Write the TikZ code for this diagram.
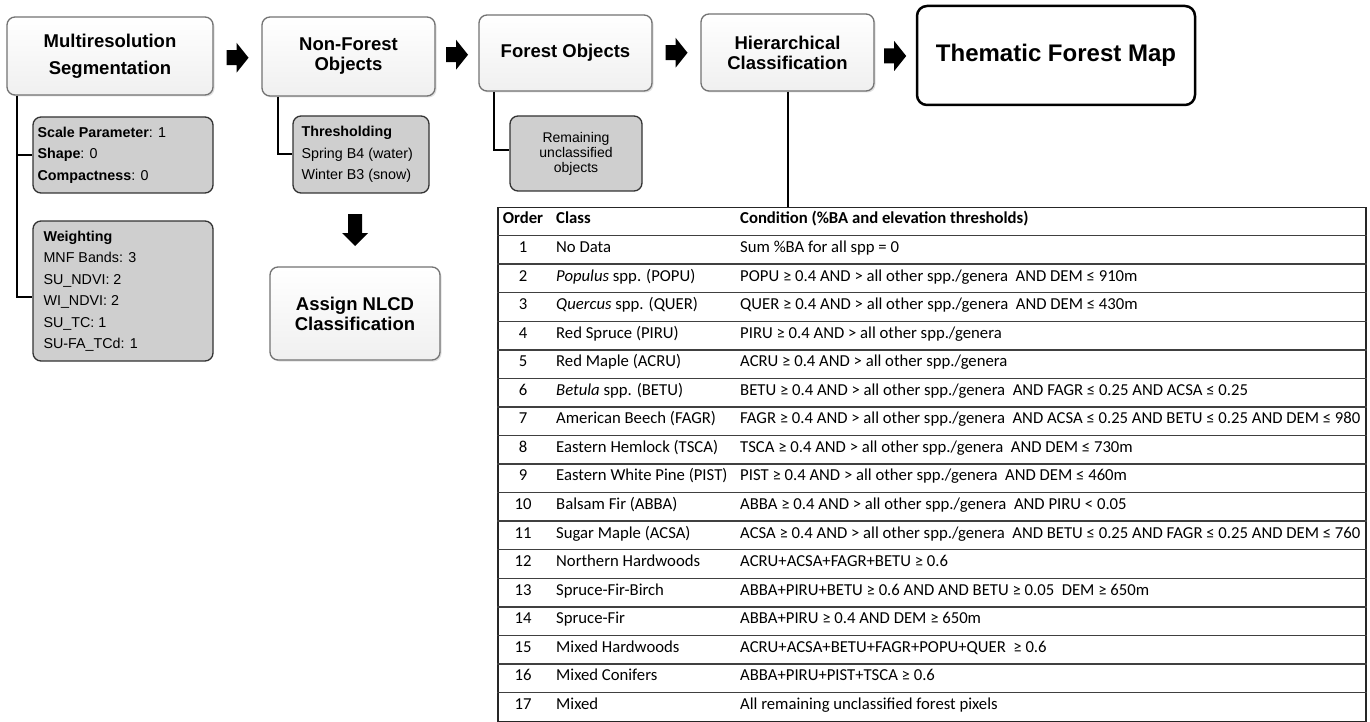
\documentclass[tikz,border=0pt]{standalone}
\usepackage{fontspec}
\setmainfont{Liberation Sans}
\newfontfamily\tabfont{Carlito}
\usetikzlibrary{shadows,calc}
\tikzset{
  topbox/.style={draw=black!55, line width=1.3pt, rounded corners=8pt,
    top color=white, bottom color=black!6,
    drop shadow={shadow xshift=1.5pt, shadow yshift=-1.5pt, fill=black!30, opacity=0.4},
    align=center, inner sep=0pt, font=\fontsize{18.5}{20}\selectfont\bfseries},
  graybox/.style={draw=black!80, line width=1.3pt, rounded corners=8pt, fill=black!19, inner sep=0pt},
  gtext/.style={align=left, inner sep=0pt, anchor=west, font=\fontsize{14.3}{21.5}\selectfont},
  finalbox/.style={draw=black, line width=2.5pt, rounded corners=10pt, fill=white,
    inner sep=0pt, font=\fontsize{24}{26}\selectfont\bfseries},
  blockarrow/.style={fill=black},
  conn/.style={line width=2pt, black},
  tt/.style={inner sep=0pt, font=\tabfont\fontsize{16.7}{19}\selectfont},
  rowline/.style={line width=1.4pt, black!75},
}
\newcommand\rarr[1]{\fill[blockarrow] ($(#1)+(-11,-7.5)$) -- ($(#1)+(-1,-7.5)$) -- ($(#1)+(-1,-15)$) -- ($(#1)+(11,0)$) -- ($(#1)+(-1,15)$) -- ($(#1)+(-1,7.5)$) -- ($(#1)+(-11,7.5)$) -- cycle;}
\newcommand\darr[1]{\fill[blockarrow] ($(#1)+(-7,-16)$) -- ($(#1)+(7,-16)$) -- ($(#1)+(7,3)$) -- ($(#1)+(13,3)$) -- ($(#1)+(0,16)$) -- ($(#1)+(-13,3)$) -- ($(#1)+(-7,3)$) -- cycle;}
\newcommand\tabrow[4]{%
  \pgfmathsetmacro\ry{207+28.56*(#1+0.5)}%
  \node[tt,anchor=mid] (ord#1) at (523,\ry) {#2};
  \node[tt,anchor=mid west] (cls#1) at (556,\ry) {#3};
  \node[tt,anchor=mid west] (cnd#1) at (740,\ry) {#4};
}
\begin{document}
\begin{tikzpicture}[x=1pt,y=-1pt]
\useasboundingbox (0,0) rectangle (1370,722);
\fill[white] (0,0) rectangle (1370,722);

% top row
\node[topbox, minimum width=206pt, minimum height=78pt, font=\fontsize{18.5}{27}\selectfont\bfseries] (seg) at (110,56) {Multiresolution\\Segmentation};
\node[topbox, minimum width=173pt, minimum height=79pt] (nf) at (348.5,56.5) {Non-Forest\\Objects};
\node[topbox, minimum width=173pt, minimum height=76pt] (fo) at (565.5,53) {Forest Objects};
\node[topbox, minimum width=173pt, minimum height=77pt] (hc) at (787.5,52.5) {Hierarchical\\Classification};
\node[finalbox, minimum width=278pt, minimum height=99pt] (tfm) at (1056,55.5) {Thematic Forest Map};

\coordinate (a1) at ($(seg.east)!0.5!(nf.west)+(0,1.5)$);
\coordinate (a2) at ($(nf.east)!0.5!(fo.west)$);
\coordinate (a3) at ($(fo.east)!0.5!(hc.west)$);
\coordinate (a4) at ($(hc.east)!0.5!(tfm.west)+(0,2)$);
\rarr{a1}\rarr{a2}\rarr{a3}\rarr{a4}

% gray boxes
\node[graybox, minimum width=180pt, minimum height=76pt] (g1) at (123,155) {};
\node[gtext] (g1t) at ([xshift=5pt]g1.west) {\textbf{Scale Parameter}: 1\\\textbf{Shape}: 0\\\textbf{Compactness}: 0};
\node[graybox, minimum width=180pt, minimum height=140pt] (g2) at (123,291) {};
\node[gtext] (g2t) at ([xshift=11pt]g2.west) {\textbf{Weighting}\\MNF Bands: 3\\SU\_NDVI: 2\\WI\_NDVI: 2\\SU\_TC: 1\\SU-FA\_TCd: 1};
\node[graybox, minimum width=136pt, minimum height=77pt] (th) at (361,154.5) {};
\node[gtext] (tht) at ([xshift=9pt]th.west) {\textbf{Thresholding}\\Spring B4 (water)\\Winter B3 (snow)};
\node[graybox, minimum width=132pt, minimum height=75pt, align=center, font=\fontsize{14}{15}\selectfont] (rem) at (576,153.5) {Remaining\\unclassified\\objects};

\node[topbox, minimum width=170pt, minimum height=93pt] (nlcd) at (355,313.5) {Assign NLCD\\Classification};
\coordinate (a5) at ($(th.south -| nlcd.north)!0.5!(nlcd.north)$);
\darr{a5}

% connectors
\draw[conn] ([xshift=10.5pt]seg.south west) |- ([yshift=-6pt]g2.west);
\draw[conn] ([xshift=10.5pt]seg.south west) |- (g1.west);
\draw[conn] ([xshift=17pt]nf.south west) |- (th.west);
\draw[conn] ([xshift=16pt]fo.south west) |- ([yshift=3pt]rem.west);

% table
\node[draw=black!85, line width=1.5pt, minimum width=868pt, minimum height=514pt, anchor=north west, inner sep=0pt] (tab) at (497,207) {};
\draw[conn] (hc.south) -- (hc.south |- tab.north);
\foreach \i in {1,...,17} \draw[rowline] ($(tab.north west)+(0,28.56*\i)$) -- ($(tab.north east)+(0,28.56*\i)$);

\tabrow{0}{\textbf{Order}}{\textbf{Class}}{\textbf{Condition (\%BA and elevation thresholds)}}
\tabrow{1}{1}{No Data}{Sum \%BA for all spp = 0}
\tabrow{2}{2}{\textit{Populus} spp. (POPU)}{POPU ≥ 0.4 AND > all other spp./genera~ AND DEM ≤ 910m}
\tabrow{3}{3}{\textit{Quercus} spp. (QUER)}{QUER ≥ 0.4 AND > all other spp./genera~ AND DEM ≤ 430m}
\tabrow{4}{4}{Red Spruce (PIRU)}{PIRU ≥ 0.4 AND > all other spp./genera}
\tabrow{5}{5}{Red Maple (ACRU)}{ACRU ≥ 0.4 AND > all other spp./genera}
\tabrow{6}{6}{\textit{Betula} spp. (BETU)}{BETU ≥ 0.4 AND > all other spp./genera~ AND FAGR ≤ 0.25 AND ACSA ≤ 0.25}
\tabrow{7}{7}{American Beech (FAGR)}{FAGR ≥ 0.4 AND > all other spp./genera~ AND ACSA ≤ 0.25 AND BETU ≤ 0.25 AND DEM ≤ 980}
\tabrow{8}{8}{Eastern Hemlock (TSCA)}{TSCA ≥ 0.4 AND > all other spp./genera~ AND DEM ≤ 730m}
\tabrow{9}{9}{Eastern White Pine (PIST)}{PIST ≥ 0.4 AND > all other spp./genera~ AND DEM ≤ 460m}
\tabrow{10}{10}{Balsam Fir (ABBA)}{ABBA ≥ 0.4 AND > all other spp./genera~ AND PIRU < 0.05}
\tabrow{11}{11}{Sugar Maple (ACSA)}{ACSA ≥ 0.4 AND > all other spp./genera~ AND BETU ≤ 0.25 AND FAGR ≤ 0.25 AND DEM ≤ 760}
\tabrow{12}{12}{Northern Hardwoods}{ACRU+ACSA+FAGR+BETU ≥ 0.6}
\tabrow{13}{13}{Spruce-Fir-Birch}{ABBA+PIRU+BETU ≥ 0.6 AND AND BETU ≥ 0.05~ DEM ≥ 650m}
\tabrow{14}{14}{Spruce-Fir}{ABBA+PIRU ≥ 0.4 AND DEM ≥ 650m}
\tabrow{15}{15}{Mixed Hardwoods}{ACRU+ACSA+BETU+FAGR+POPU+QUER~ ≥ 0.6}
\tabrow{16}{16}{Mixed Conifers}{ABBA+PIRU+PIST+TSCA ≥ 0.6}
\tabrow{17}{17}{Mixed}{All remaining unclassified forest pixels}
\end{tikzpicture}
\end{document}
